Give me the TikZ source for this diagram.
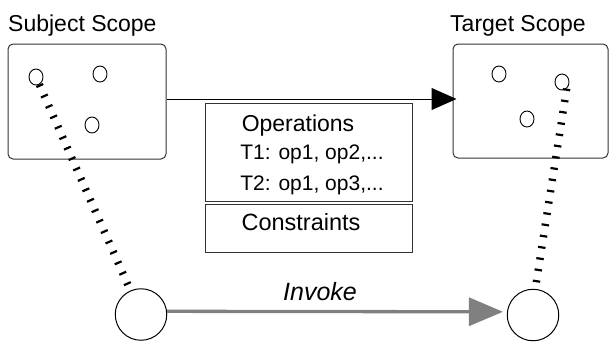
\documentclass[tikz,border=0pt]{standalone}
\usepackage{fontspec}
\setmainfont{Liberation Sans}
\usetikzlibrary{shapes.geometric,arrows.meta}
\definecolor{bordergray}{HTML}{333333}
\definecolor{invokegray}{HTML}{808080}
\begin{document}
\begin{tikzpicture}[x=1pt,y=-1pt,
  scopebox/.style={draw=bordergray,line width=1pt,rounded corners=5pt,inner sep=0pt},
  opbox/.style={draw=bordergray,line width=1pt,inner sep=0pt,minimum width=207pt},
  dot/.style={draw=black,line width=0.9pt,ellipse,inner sep=0pt,minimum width=14pt,minimum height=16pt},
  bigdot/.style={draw=black,line width=1pt,circle,inner sep=0pt,minimum size=51.5pt},
  lbl/.style={inner sep=0pt,font=\fontsize{23}{27}\selectfont},
  oplbl/.style={inner sep=0pt,anchor=base,font=\fontsize{21}{25}\selectfont},
  dashline/.style={draw=black,line width=7.5pt,dash pattern=on 2.2pt off 9.2pt},
  mainarrow/.style={draw=black,line width=1pt,-{Triangle[length=25pt,width=22pt]}},
  invokearrow/.style={draw=invokegray,line width=3.3pt,-{Triangle[length=34pt,width=28pt]}}
]
\useasboundingbox (0,0) rectangle (609,341);

% scope labels
\node[lbl,anchor=base west] (slbl) at (8,31) {Subject Scope};
\node[lbl,anchor=base west] (tlbl) at (450,31) {Target Scope};

% scope boxes
\node[scopebox,minimum width=158pt,minimum height=115pt] (sbox) at (87,101.5) {};
\node[scopebox,minimum width=155pt,minimum height=114pt] (tbox) at (530.5,101) {};

% small circles
\node[dot] (sc1) at (36,77) {};
\node[dot] (sc2) at (100,74) {};
\node[dot] (sc3) at (92,125) {};
\node[dot] (tc1) at (499,74) {};
\node[dot] (tc2) at (562,82) {};
\node[dot] (tc3) at (527,119) {};

% operations / constraints boxes
\node[opbox,minimum height=98pt] (ops) at (308.5,152) {};
\node[opbox,minimum height=48pt] (cons) at (308.5,228) {};
\node[oplbl,font=\fontsize{23}{27}\selectfont] (opst) at (298,131.5) {Operations};
\node[oplbl] (t1) at (312,159.5) {T1: op1, op2,...};
\node[oplbl] (t2) at (312,190) {T2: op1, op3,...};
\node[oplbl,font=\fontsize{23.5}{27}\selectfont] (const) at (301,230) {Constraints};

% big circles
\node[bigdot] (bc1) at (141,314.5) {};
\node[bigdot] (bc2) at (533,315) {};

% main arrow
\draw[mainarrow,shorten >=-4pt] ([yshift=2.5pt]sbox.east) -- ([yshift=2pt]tbox.west);

% dashed links
\draw[dashline] (sc1) -- (bc1);
\draw[dashline] (tc2.-55) -- (bc2.85);

% invoke arrow
\draw[invokearrow,shorten >=4pt] (bc1.7) -- (bc2.173);
\node[inner sep=0pt,anchor=base,font=\fontsize{25}{29}\selectfont\itshape] (inv) at (320,300) {Invoke};
\end{tikzpicture}
\end{document}
